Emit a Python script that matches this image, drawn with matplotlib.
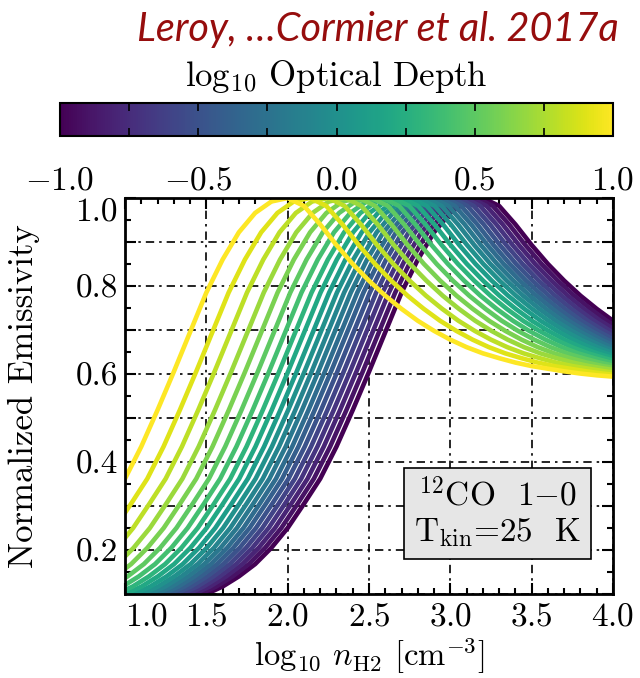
import matplotlib
matplotlib.use("Agg")
import matplotlib.pyplot as plt
import numpy as np
from matplotlib.cm import ScalarMappable
from matplotlib.colors import Normalize
from matplotlib.ticker import MultipleLocator, FuncFormatter

# ── data ──────────────────────────────────────────────────────────────────────
# one curve per log10 optical depth, yellow (high tau) to purple (low tau)
log_tau = [1.0, 0.9, 0.8, 0.7, 0.6, 0.5, 0.4, 0.3, 0.2, 0.1, 0.0,
           -0.1, -0.2, -0.3, -0.4, -0.5, -0.6, -0.7, -0.8, -0.9, -1.0]
# horizontal offset of each curve relative to the log tau = 1 curve [dex]
curve_shift = [0.0, 0.137, 0.25, 0.353, 0.438, 0.516, 0.585, 0.647, 0.702,
               0.755, 0.803, 0.847, 0.888, 0.928, 0.966, 1.005, 1.044,
               1.083, 1.122, 1.161, 1.2]

# emissivity profile of the log tau = 1 curve
profile_lognh2 = [-0.2, -0.1, 0.0, 0.1, 0.2, 0.3, 0.4, 0.5, 0.6, 0.7, 0.8,
                  0.9, 1.0, 1.1, 1.2, 1.3, 1.4, 1.5, 1.6, 1.7, 1.8, 1.9,
                  2.0, 2.1, 2.2, 2.3, 2.4, 2.5, 2.6, 2.7, 2.8, 2.9, 3.0,
                  3.1, 3.2, 3.3, 3.4, 3.5, 3.6, 3.7, 3.8, 3.9, 4.0]
profile_emis = [0.050, 0.057, 0.065, 0.075, 0.086, 0.100, 0.117, 0.140,
                0.168, 0.205, 0.250, 0.305, 0.362, 0.435, 0.518, 0.605,
                0.695, 0.785, 0.860, 0.922, 0.966, 0.992, 1.000, 0.982,
                0.940, 0.893, 0.850, 0.812, 0.778, 0.748, 0.721, 0.698,
                0.678, 0.661, 0.647, 0.636, 0.626, 0.618, 0.612, 0.606,
                0.601, 0.597, 0.594]

cbar_ticks = [-1.0, -0.5, 0.0, 0.5, 1.0]

# ── style ─────────────────────────────────────────────────────────────────────
plt.rcParams["font.family"] = ["cmr10", "DejaVu Serif"]
plt.rcParams["mathtext.fontset"] = "cm"
plt.rcParams["axes.formatter.use_mathtext"] = True
plt.rcParams["axes.unicode_minus"] = True

W, H = 640, 678
fig = plt.figure(figsize=(W / 100, H / 100), dpi=100)
ax = fig.add_axes([125 / W, 1 - 594 / H, 488 / W, 396 / H])
cax = fig.add_axes([60 / W, 1 - 136 / H, 553 / W, 33 / H])

cmap = plt.get_cmap("viridis")
norm = Normalize(vmin=-1.0, vmax=1.0)

x_prof = np.array(profile_lognh2)
y_prof = np.array(profile_emis)

# low optical depth first so the yellow curves end up on top
for t, s in reversed(list(zip(log_tau, curve_shift))):
    ax.plot(x_prof + s, y_prof, color=cmap(norm(t)), lw=3.3,
            solid_capstyle="butt", solid_joinstyle="round")

ax.set_xlim(1.0, 4.0)
ax.set_ylim(0.1, 1.0)
ax.xaxis.set_major_locator(MultipleLocator(0.5))
ax.xaxis.set_minor_locator(MultipleLocator(0.1))
ax.yaxis.set_major_locator(MultipleLocator(0.1))
ax.yaxis.set_minor_locator(MultipleLocator(0.05))
ax.yaxis.set_major_formatter(
    FuncFormatter(lambda v, p: f"{v:.1f}" if round(v * 10) % 2 == 0 else ""))
ax.tick_params(which="both", direction="in", top=True, right=True,
               width=1.5, labelsize=24)
ax.tick_params(axis="y", pad=5)
ax.tick_params(axis="x", pad=6)
ax.tick_params(which="major", length=8)
ax.tick_params(which="minor", length=4)
for sp in ax.spines.values():
    sp.set_linewidth(2.0)
ax.grid(True, which="major", color="k", lw=1.2,
        linestyle=(0, (5, 3, 1.5, 3)))

ax.set_xlabel(r"log$_{10}$ $n_{\rm H2}$ [cm$^{-3}$]", fontsize=23.5)
ax.xaxis.set_label_coords(0.5, -0.104)
ax.set_ylabel("Normalized Emissivity", fontsize=25)
ax.yaxis.set_label_coords(-0.175, 0.5)

ax.text(0.764, 0.205, "$^{12}$CO  1$-$0\nT$_{\\rm kin}$=25  K",
        transform=ax.transAxes, ha="center", va="center", fontsize=24,
        linespacing=1.2,
        bbox=dict(boxstyle="square,pad=0.3", fc="#e6e6e6", ec="k", lw=1.2))

# ── colorbar ──────────────────────────────────────────────────────────────────
sm = ScalarMappable(norm=norm, cmap=cmap)
cbar = fig.colorbar(sm, cax=cax, orientation="horizontal")
cbar.set_ticks(cbar_ticks)
cax.xaxis.set_minor_locator(MultipleLocator(0.25))
cax.tick_params(which="both", direction="in", top=True, bottom=True,
                labelbottom=True, labeltop=False, width=1.2, labelsize=24,
                pad=22)
cax.tick_params(which="major", length=6)
cax.tick_params(which="minor", length=6)
cbar.outline.set_linewidth(1.5)
cbar.set_label(r"log$_{10}$ Optical Depth", fontsize=25, labelpad=12)
cax.xaxis.set_label_position("top")

fig.text(0.59, 1 - 29 / H, "Leroy, …Cormier et al. 2017a", ha="center",
         va="center", color="#960d0d", style="italic", family="Lato",
         fontsize=28.5)

# like the original, the corner labels sit inside the frame
fig.canvas.draw()
for tick in ax.yaxis.get_major_ticks():
    if abs(tick.get_loc() - 1.0) < 1e-6:
        tick.label1.set_verticalalignment("top")
for tick in ax.xaxis.get_major_ticks():
    if abs(tick.get_loc() - 1.0) < 1e-6:
        tick.label1.set_horizontalalignment("left")

fig.savefig("out.png", dpi=100)
